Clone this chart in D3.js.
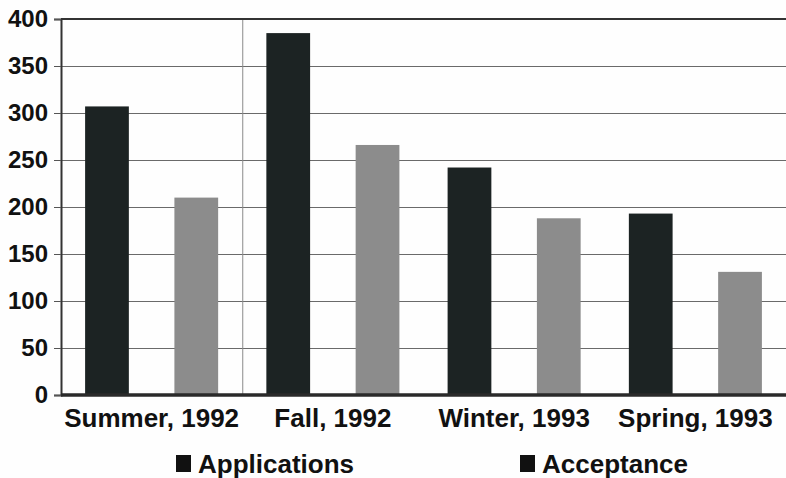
<!DOCTYPE html>
<html>
<head>
<meta charset="utf-8">
<script src="https://cdn.jsdelivr.net/npm/d3@7"></script>
<style>
    body { margin: 0; background: #fff; }
    text { font-family: "Liberation Sans", Arial, sans-serif; font-weight: bold; fill: #111; }
</style>
</head>
<body>
<div id="chart"></div>
<script>
//data:
var categories = ["Summer, 1992", "Fall, 1992", "Winter, 1993", "Spring, 1993"];
var seriesNames = ["Applications", "Acceptance"];
var applications = [307, 385, 242, 193];
var acceptance = [210, 266, 188, 131];
var yTicks = [0, 50, 100, 150, 200, 250, 300, 350, 400];
var colorScheme = { "Applications": "#1c2323", "Acceptance": "#8c8c8c" };

var width = 786;
var height = 478;

//create plot pane:
var plot = d3.select("#chart")
    .append("svg")
    .attr("width", width)
    .attr("height", height);

plot.append("rect")
    .attr("width", width)
    .attr("height", height)
    .attr("fill", "#fefefe");

//set scales (careful: "top" is taken by window)
var padLeft = 61, padRight = 786, padTop = 19, padBottom = 395;
var xScale = d3.scaleBand().domain(categories).range([padLeft, padRight]).padding(0);
var xInner = d3.scaleBand().domain(seriesNames)
    .range([0, xScale.bandwidth()])
    .paddingInner(0.51)
    .paddingOuter(0.27);
var yScale = d3.scaleLinear().domain([0, 400]).range([padBottom, padTop]);

//horizontal grid lines
plot.append("g")
    .selectAll("line")
    .data(yTicks.slice(1, -1))
    .enter().append("line")
    .attr("x1", padLeft)
    .attr("x2", padRight)
    .attr("y1", function (d) { return yScale(d) + 0.5; })
    .attr("y2", function (d) { return yScale(d) + 0.5; })
    .attr("stroke", "#6a6a6a")
    .attr("stroke-width", 1.2);

//one vertical divider, between first and second category
plot.append("line")
    .attr("x1", xScale(categories[1]) + 0.5)
    .attr("x2", xScale(categories[1]) + 0.5)
    .attr("y1", padTop)
    .attr("y2", padBottom)
    .attr("stroke", "#8a8a8a")
    .attr("stroke-width", 1);

//bars
var rows = categories.map(function (c, i) {
    return { cat: c, values: [
        { key: "Applications", value: applications[i] },
        { key: "Acceptance", value: acceptance[i] }
    ] };
});

var groups = plot.append("g")
    .selectAll("g")
    .data(rows)
    .enter().append("g")
    .attr("transform", function (d) { return "translate(" + xScale(d.cat) + ",0)"; });

groups.selectAll("rect")
    .data(function (d) { return d.values; })
    .enter().append("rect")
    .attr("x", function (d) { return xInner(d.key); })
    .attr("y", function (d) { return yScale(d.value); })
    .attr("width", xInner.bandwidth())
    .attr("height", function (d) { return yScale(0) - yScale(d.value); })
    .attr("fill", function (d) { return colorScheme[d.key]; });

//frame: top line
plot.append("line")
    .attr("x1", padLeft).attr("x2", padRight)
    .attr("y1", padTop).attr("y2", padTop)
    .attr("stroke", "#333").attr("stroke-width", 2);

//y axis
var yAxis = d3.axisLeft(yScale).tickValues(yTicks).tickSize(7).tickPadding(6);
var yG = plot.append("g")
    .attr("transform", "translate(" + padLeft + ",0)")
    .call(yAxis);
yG.select(".domain").attr("stroke", "#333").attr("stroke-width", 2);
yG.selectAll(".tick line").attr("stroke", "#555");
yG.selectAll(".tick text")
    .attr("font-size", "24px")
    .attr("font-family", "Liberation Sans, Arial, sans-serif")
    .attr("font-weight", "bold")
    .attr("fill", "#111");

//thick baseline
plot.append("line")
    .attr("x1", padLeft).attr("x2", padRight)
    .attr("y1", padBottom).attr("y2", padBottom)
    .attr("stroke", "#2a2a2a").attr("stroke-width", 3.5);

//x axis labels
var xAxis = d3.axisBottom(xScale).tickSize(0).tickPadding(14);
var xG = plot.append("g")
    .attr("transform", "translate(0," + padBottom + ")")
    .call(xAxis);
xG.select(".domain").remove();
xG.selectAll(".tick text")
    .attr("font-size", "26px")
    .attr("font-family", "Liberation Sans, Arial, sans-serif")
    .attr("font-weight", "bold")
    .attr("fill", "#111");

//legend
var legendX = [176, 520];
var legend = plot.append("g")
    .selectAll("g")
    .data(seriesNames)
    .enter().append("g")
    .attr("transform", function (d, i) { return "translate(" + legendX[i] + ",455)"; });

legend.append("rect")
    .attr("width", 15)
    .attr("height", 17)
    .attr("fill", "#111");

legend.append("text")
    .attr("x", 22)
    .attr("y", 18)
    .attr("font-size", "26px")
    .text(function (d) { return d; });
</script>
</body>
</html>
